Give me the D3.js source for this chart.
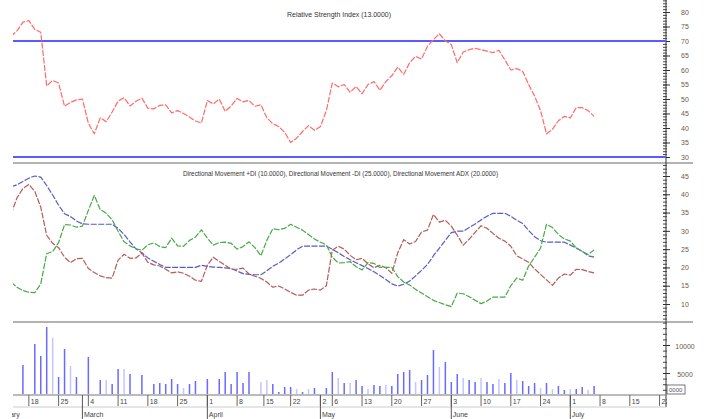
<!DOCTYPE html>
<html>
<head>
<meta charset="utf-8">
<script src="https://cdn.jsdelivr.net/npm/d3@7"></script>
<style>
    body { margin: 0; background: #fff; }
    svg { display: block; font-family: "Liberation Sans", Arial, sans-serif; }
</style>
</head>
<body>
<div id="chart"></div>
<script>
// one value per trading day, index 0 = first bar on the left
var rsi = [71.5, 73.5, 76.5, 77, 74, 73, 54.5, 56.4, 55.5, 47.5,
    48.8, 49.7, 50, 41.7, 38, 43.5, 42.2, 45.5, 49.3, 50.4,
    47.6, 49.2, 50.3, 46.8, 46.6, 47.8, 48, 45.2, 46, 45,
    43.8, 42.4, 41.7, 49.5, 48.3, 50, 45.7, 47.6, 50.2, 49,
    49.5, 47.5, 48, 43.5, 41.5, 40.5, 38.5, 35, 36.5, 38.8,
    40.8, 39.2, 40.5, 46, 55.5, 54.2, 55, 52.3, 54.3, 51.8,
    55, 56, 53, 56, 58, 61, 58.5, 62.5, 64.7, 63.8,
    68.2, 70.5, 72.5, 70, 68.8, 62.5, 66.2, 67, 67.5, 67,
    66.5, 66, 66.8, 63.5, 60, 60.5, 59.5, 55, 51, 46,
    38, 39.5, 42.5, 44, 43.5, 47, 47, 46, 44];

var plusDI = [16, 14.6, 13.7, 13.2, 13.1, 15.5, 23.8, 24.3, 26.8, 31.7,
    31.6, 31, 31.3, 35.6, 39.7, 35.8, 34.8, 33, 29.9, 27,
    25.9, 25.1, 24.7, 26.2, 26.7, 25.7, 25.4, 28, 25.9, 25.8,
    27.4, 28.3, 30.3, 28, 26.1, 26.8, 26.9, 26.6, 25, 25.7,
    27, 25.4, 23.2, 27.4, 30.6, 30.3, 30.7, 31.8, 31, 30.2,
    29, 27.8, 26.9, 26.2, 22.8, 21.2, 21.3, 21.6, 20.2, 19.3,
    21.3, 21.1, 20, 20, 20, 17.5, 16, 15.2, 14, 13,
    12, 11, 10.4, 9.8, 9.3, 13, 12.8, 12, 11, 10.1,
    10.8, 11.9, 11.9, 11.9, 15, 17.1, 16.5, 20.4, 22.8, 25.3,
    31.8, 30.9, 29, 27.8, 27.2, 25.3, 24.4, 23.5, 24.8];

var minusDI = [34.5, 39, 41.6, 42.7, 40.8, 36.5, 28.8, 26.6, 25.4, 22.8,
    21.3, 22.4, 22.5, 19.7, 18.6, 17.7, 17.2, 17.1, 22, 23.6,
    22.5, 22.6, 23.9, 21.4, 20.7, 20.4, 19.5, 18.5, 18.8, 18.4,
    17.6, 16.5, 16.2, 20.6, 22.8, 21.6, 20.6, 19.5, 19.5, 19.8,
    18.2, 17.6, 17, 16, 14.6, 14.9, 14.1, 13.2, 12.4, 12.4,
    13.8, 14.1, 13.8, 15, 24.7, 25.8, 25, 23.3, 22.1, 22.5,
    21, 19.9, 20.6, 19.9, 18.4, 24, 27.6, 26.4, 27.1, 29.7,
    30.2, 34.5, 32.4, 32.9, 31.3, 28.8, 26.1, 27.7, 29.6, 31.4,
    30.7, 29.3, 28, 27.2, 25.8, 23.2, 22.3, 21.4, 19.6, 18.1,
    16.6, 15.1, 17.1, 18.2, 17.9, 19.5, 19.4, 18.9, 18.5];

var adx = [42, 42.6, 43.5, 44.4, 45, 44.7, 42.4, 39.8, 37, 34.7,
    33.9, 32.7, 31.9, 31.8, 31.8, 31.8, 31.8, 31.8, 30.7, 29,
    27, 25.1, 24, 22.6, 21.7, 20.8, 20, 20, 20, 20,
    20, 20, 20.6, 20.3, 20.1, 20, 19.9, 19.7, 19, 18.3,
    18.1, 18, 18, 19.1, 20.3, 21.2, 22.3, 23.5, 24.8, 25.8,
    25.8, 25.8, 25.8, 25.8, 25, 24, 23, 22.1, 21.3, 20.5,
    19.7, 18.8, 17.8, 16.7, 15.5, 14.9, 15.4, 16.3, 17.7, 19.2,
    20.8, 23.2, 25.3, 27.4, 29.5, 29.9, 29.9, 30.9, 31.9, 33,
    34, 34.8, 34.8, 34.8, 34, 32.9, 32, 30.1, 28.4, 27.3,
    26.9, 26.9, 26.9, 26.9, 26.1, 25.3, 24.4, 23.2, 22.8];

var volume = [0, 0, 6430, 0, 10180, 8040, 13210, 11250, 4290, 9290,
    6250, 4290, 0, 7860, 0, 3750, 3750, 3040, 5710, 5710,
    4820, 0, 4640, 0, 3040, 3210, 3040, 3930, 3040, 2320,
    3040, 3570, 0, 3930, 0, 3930, 5180, 3040, 5180, 3210,
    5180, 0, 3390, 3750, 3040, 1610, 2500, 2500, 2140, 1610,
    2140, 2320, 0, 2320, 5180, 4110, 3210, 3210, 3750, 2680,
    2140, 2860, 2680, 2860, 2680, 4820, 5180, 5540, 3390, 3750,
    4640, 9110, 6070, 6960, 3390, 4820, 4110, 3750, 3390, 4110,
    3390, 3040, 3930, 3210, 5000, 3750, 3570, 2680, 3210, 2320,
    3210, 2140, 2680, 1960, 2140, 2140, 2500, 1960, 2680];

// 1 = down day (drawn lighter)
var volumeDown = [0, 0, 0, 0, 0, 0, 0, 1, 0, 0,
    1, 0, 0, 0, 0, 0, 1, 0, 0, 1,
    0, 0, 0, 0, 0, 0, 0, 0, 0, 1,
    0, 0, 0, 0, 0, 0, 0, 0, 0, 0,
    0, 0, 1, 1, 0, 0, 0, 0, 1, 0,
    1, 0, 0, 0, 0, 1, 0, 1, 0, 0,
    1, 0, 0, 1, 0, 0, 0, 0, 1, 0,
    0, 0, 1, 0, 0, 0, 1, 0, 0, 1,
    0, 0, 1, 0, 0, 1, 0, 0, 0, 1,
    0, 1, 0, 0, 1, 0, 0, 1, 0];

var rsiLevels = [70, 30];
var rsiTicks = [30, 35, 40, 45, 50, 55, 60, 65, 70, 75, 80];
var dmiTicks = [10, 15, 20, 25, 30, 35, 40, 45];
var volTicks = [5000, 10000];

var dayTickIndex = [3, 8, 13, 18, 23, 28, 33, 38, 42.5, 47, 52, 54, 59, 64, 69, 74, 79, 84, 89, 94, 99, 104, 109];
var dayTickLabel = ["18", "25", "4", "11", "18", "25", "1", "8", "15", "22", "2", "6", "13", "20", "27", "3", "10", "17", "24", "1", "8", "15", "22"];
var monthIndex = [-3.5, 12, 33, 52, 74, 94];
var monthLabel = ["February", "March", "April", "May", "June", "July"];

var rsiTitle = "Relative Strength Index (13.0000)";
var dmiTitle = "Directional Movement +DI (10.0000), Directional Movement -DI (25.0000), Directional Movement ADX (20.0000)";

var width = 708, height = 419;
var plotLeft = 13, axisX = 666;

var svg = d3.select("#chart")
    .append("svg")
    .attr("width", width)
    .attr("height", height);

svg.append("clipPath").attr("id", "plotClip")
    .append("rect")
    .attr("x", plotLeft).attr("y", 0)
    .attr("width", axisX - plotLeft).attr("height", height);

// scales
var x = d3.scaleLinear().domain([0, 110]).range([11, 665.5]);
var yRsi = d3.scaleLinear().domain([30, 80]).range([157, 12]);
var yDmi = d3.scaleLinear().domain([10, 45]).range([304, 176]);
var yVol = d3.scaleLinear().domain([5000, 10000]).range([373, 345]);
var volBase = 394;

// panel separators
[163, 322].forEach(function (y) {
    svg.append("line")
        .attr("x1", plotLeft).attr("x2", 693)
        .attr("y1", y).attr("y2", y)
        .attr("stroke", "#9a9a9a")
        .attr("stroke-width", 1.6);
});

// right value axis line
svg.append("line")
    .attr("x1", axisX).attr("x2", axisX)
    .attr("y1", 0).attr("y2", 407)
    .attr("stroke", "#333")
    .attr("stroke-width", 1);

function rightAxis(scale, minor, major, fmt, dy) {
    svg.append("g")
        .attr("transform", "translate(663,0)")
        .call(d3.axisRight(scale).tickValues(minor).tickSize(4).tickFormat(""))
        .call(function (g) { g.select(".domain").remove(); })
        .selectAll("line").attr("stroke", "#444");

    var g = svg.append("g")
        .attr("transform", "translate(663,0)")
        .call(d3.axisRight(scale).tickValues(major).tickSize(7).tickPadding(15).tickFormat(fmt));
    g.select(".domain").remove();
    g.selectAll("line").attr("stroke", "#333");
    g.selectAll("text")
        .attr("text-anchor", "middle")
        .attr("dy", dy)
        .attr("fill", "#6b5a4a")
        .style("font-size", "7px");
}

rightAxis(yRsi, d3.range(30, 85, 1), rsiTicks, d3.format("d"), "0.32em");
rightAxis(yDmi, d3.range(6, 49, 1), dmiTicks, d3.format("d"), "0.32em");
rightAxis(yVol, d3.range(2000, 14001, 1000), volTicks, d3.format("d"), "0.5em");

// last value box of the volume axis
svg.append("rect")
    .attr("x", 667).attr("y", 385)
    .attr("width", 18).attr("height", 9)
    .attr("fill", "#fff")
    .attr("stroke", "#555")
    .attr("stroke-width", 0.8);
svg.append("text")
    .attr("x", 669).attr("y", 392)
    .attr("fill", "#556")
    .style("font-size", "6px")
    .text("0000");

// titles
svg.append("text")
    .attr("x", 287).attr("y", 17)
    .attr("textLength", 104)
    .attr("lengthAdjust", "spacingAndGlyphs")
    .attr("fill", "#333")
    .style("font-size", "7.5px")
    .text(rsiTitle);

svg.append("text")
    .attr("x", 183).attr("y", 176)
    .attr("textLength", 315)
    .attr("lengthAdjust", "spacingAndGlyphs")
    .attr("fill", "#333")
    .style("font-size", "7.5px")
    .text(dmiTitle);

var plot = svg.append("g").attr("clip-path", "url(#plotClip)");

// RSI overbought / oversold lines
plot.selectAll(".level")
    .data(rsiLevels)
    .enter().append("line")
    .attr("class", "level")
    .attr("x1", plotLeft).attr("x2", axisX)
    .attr("y1", function (d) { return yRsi(d); })
    .attr("y2", function (d) { return yRsi(d); })
    .attr("stroke", "#5a5aff")
    .attr("stroke-width", 2);

function drawLine(values, yScale, color) {
    var line = d3.line()
        .x(function (d, i) { return x(i); })
        .y(function (d) { return yScale(d); });
    plot.append("path")
        .datum(values)
        .attr("d", line)
        .attr("fill", "none")
        .attr("stroke", color)
        .attr("stroke-width", 1.2)
        .attr("stroke-dasharray", "6,1.5")
        .attr("stroke-linejoin", "round");
}

drawLine(rsi, yRsi, "#ff6a6a");
drawLine(adx, yDmi, "#5a5ac4");
drawLine(minusDI, yDmi, "#b45a5a");
drawLine(plusDI, yDmi, "#46a846");

// volume bars
plot.selectAll(".vol")
    .data(volume.map(function (v, i) { return {i: i, v: v, down: volumeDown[i]}; })
        .filter(function (d) { return d.v > 0; }))
    .enter().append("line")
    .attr("class", "vol")
    .attr("x1", function (d) { return x(d.i); })
    .attr("x2", function (d) { return x(d.i); })
    .attr("y1", volBase)
    .attr("y2", function (d) { return yVol(d.v); })
    .attr("stroke", function (d) { return d.down ? "#c4c4ff" : "#6a6aff"; })
    .attr("stroke-width", 1.5);

// date axis
var dateAxis = svg.append("g").attr("clip-path", "url(#dateClip)");
svg.append("clipPath").attr("id", "dateClip")
    .append("rect")
    .attr("x", 12).attr("y", 380)
    .attr("width", axisX - 12 + 1).attr("height", 40);

dateAxis.append("line")
    .attr("x1", plotLeft).attr("x2", axisX)
    .attr("y1", 395).attr("y2", 395)
    .attr("stroke", "#777");
dateAxis.append("line")
    .attr("x1", plotLeft).attr("x2", axisX)
    .attr("y1", 407).attr("y2", 407)
    .attr("stroke", "#ccc");

dateAxis.selectAll(".dayTick")
    .data(dayTickIndex)
    .enter().append("line")
    .attr("class", "dayTick")
    .attr("x1", function (d) { return x(d); })
    .attr("x2", function (d) { return x(d); })
    .attr("y1", 395).attr("y2", 406)
    .attr("stroke", "#666");

dateAxis.selectAll(".dayLabel")
    .data(dayTickIndex)
    .enter().append("text")
    .attr("class", "dayLabel")
    .attr("x", function (d) { return x(d) + 2; })
    .attr("y", 404)
    .attr("fill", "#444")
    .style("font-size", "7px")
    .text(function (d, i) { return dayTickLabel[i]; });

dateAxis.selectAll(".monthTick")
    .data(monthIndex)
    .enter().append("line")
    .attr("class", "monthTick")
    .attr("x1", function (d) { return x(d); })
    .attr("x2", function (d) { return x(d); })
    .attr("y1", 395).attr("y2", 419)
    .attr("stroke", "#555");

dateAxis.selectAll(".monthLabel")
    .data(monthIndex)
    .enter().append("text")
    .attr("class", "monthLabel")
    .attr("x", function (d) { return x(d) + 1.5; })
    .attr("y", 417)
    .attr("fill", "#444")
    .style("font-size", "7px")
    .text(function (d, i) { return monthLabel[i]; });
</script>
</body>
</html>
